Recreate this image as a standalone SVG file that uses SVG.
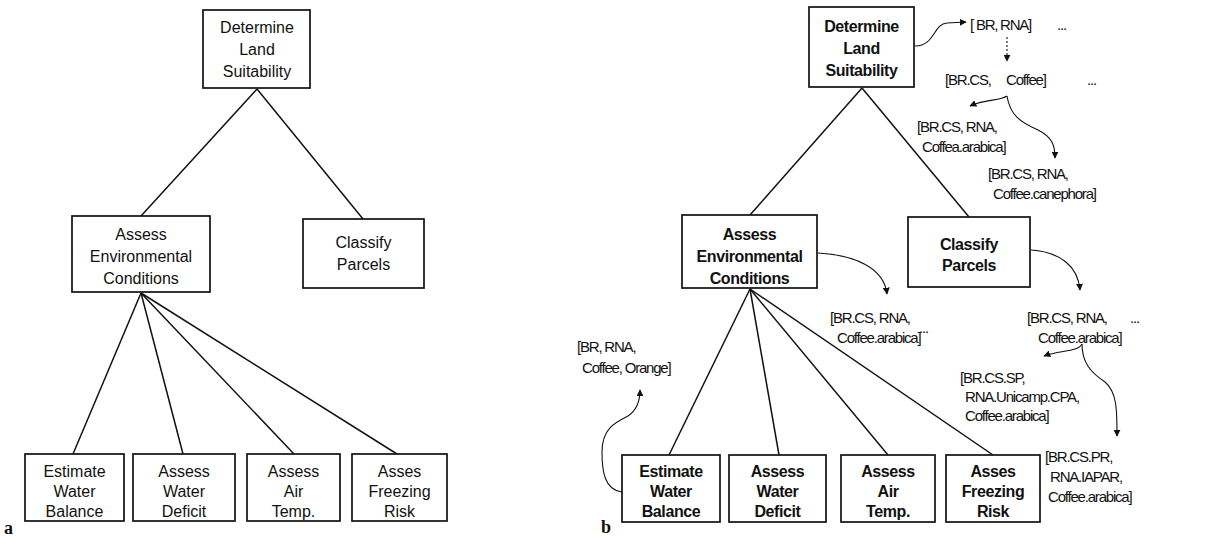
<svg xmlns="http://www.w3.org/2000/svg" width="1215" height="542" viewBox="0 0 1215 542">
<style>
.box{fill:#fff;stroke:#111;stroke-width:1.7}
.t{font-family:"Liberation Sans",Arial,sans-serif;font-size:16px;fill:#111;text-anchor:middle}
.b{font-weight:bold;letter-spacing:-0.4px}
.ann{font-family:"Liberation Sans",Arial,sans-serif;font-size:15px;fill:#111;letter-spacing:-1.2px}
.ln{stroke:#111;stroke-width:1.5;fill:none}
.cv{stroke:#111;stroke-width:1.1;fill:none}
.lab{font-family:"Liberation Serif","Times New Roman",serif;font-weight:bold;font-size:18px;fill:#111}
</style>
<defs>
<marker id="ah" viewBox="0 0 10 10" refX="9" refY="5" markerWidth="7" markerHeight="7" markerUnits="userSpaceOnUse" orient="auto">
<path d="M0,0 L10,5 L0,10 z" fill="#111"/>
</marker>
</defs>
<rect width="1215" height="542" fill="#fff"/>

<g id="connectors">
<!-- left panel -->
<line class="ln" x1="257" y1="89" x2="141" y2="216"/>
<line class="ln" x1="257" y1="89" x2="363" y2="219"/>
<line class="ln" x1="141" y1="293" x2="73" y2="454"/>
<line class="ln" x1="141" y1="293" x2="183" y2="454"/>
<line class="ln" x1="141" y1="293" x2="294" y2="454"/>
<line class="ln" x1="141" y1="293" x2="397" y2="454"/>
<!-- right panel -->
<line class="ln" x1="862" y1="88" x2="750" y2="215"/>
<line class="ln" x1="862" y1="88" x2="969" y2="217"/>
<line class="ln" x1="750" y1="289" x2="669" y2="455"/>
<line class="ln" x1="750" y1="289" x2="779" y2="455"/>
<line class="ln" x1="750" y1="289" x2="888" y2="455"/>
<line class="ln" x1="750" y1="289" x2="993" y2="455"/>
<!-- annotation arrows -->
<path class="cv" d="M915,46 C935,46 933,24 947,23 L966,22" marker-end="url(#ah)"/>
<path class="cv" d="M1007,37 L1007,61" stroke-dasharray="2,2" marker-end="url(#ah)"/>
<path class="cv" d="M1007,96 C1000,101 985,99 970,106" marker-end="url(#ah)"/>
<path class="cv" d="M1007,96 C1010,115 1020,122 1038,130 C1052,137 1055,145 1055,158" marker-end="url(#ah)"/>
<path class="cv" d="M818,253 C855,255 884,268 887,294" marker-end="url(#ah)"/>
<path class="cv" d="M1031,250 C1060,252 1078,266 1080,290" marker-end="url(#ah)"/>
<path class="cv" d="M1082,344 C1078,352 1060,350 1044,356" marker-end="url(#ah)"/>
<path class="cv" d="M1082,344 C1082,362 1090,372 1105,382 C1117,392 1117,410 1117,436" marker-end="url(#ah)"/>
<path class="cv" d="M622,492 C604,490 602,470 602,452 C602,428 616,422 628,416 C637,410 640,402 640,390" marker-end="url(#ah)"/>
</g>

<!-- LEFT PANEL NODES -->
<g id="a-determine">
<rect class="box" x="203" y="10" width="107" height="78"/>
<text class="t" x="257" y="33">Determine</text>
<text class="t" x="257" y="55">Land</text>
<text class="t" x="257" y="77">Suitability</text>
</g>
<g id="a-assess-env">
<rect class="box" x="72" y="216" width="138" height="76"/>
<text class="t" x="141" y="240">Assess</text>
<text class="t" x="141" y="262">Environmental</text>
<text class="t" x="141" y="284">Conditions</text>
</g>
<g id="a-classify">
<rect class="box" x="303" y="219" width="121" height="69"/>
<text class="t" x="363.5" y="248">Classify</text>
<text class="t" x="363.5" y="270">Parcels</text>
</g>
<g id="a-water-balance">
<rect class="box" x="25" y="454" width="99" height="67"/>
<text class="t" x="74.5" y="477">Estimate</text>
<text class="t" x="74.5" y="497">Water</text>
<text class="t" x="74.5" y="517">Balance</text>
</g>
<g id="a-water-deficit">
<rect class="box" x="133" y="454" width="102" height="67"/>
<text class="t" x="184" y="477">Assess</text>
<text class="t" x="184" y="497">Water</text>
<text class="t" x="184" y="517">Deficit</text>
</g>
<g id="a-air-temp">
<rect class="box" x="247" y="454" width="93" height="67"/>
<text class="t" x="293.5" y="477">Assess</text>
<text class="t" x="293.5" y="497">Air</text>
<text class="t" x="293.5" y="517">Temp.</text>
</g>
<g id="a-freezing">
<rect class="box" x="352" y="454" width="95" height="67"/>
<text class="t" x="399.5" y="477">Asses</text>
<text class="t" x="399.5" y="497">Freezing</text>
<text class="t" x="399.5" y="517">Risk</text>
</g>
<text class="lab" x="4" y="534">a</text>

<!-- RIGHT PANEL NODES -->
<g id="b-determine">
<rect class="box" x="809" y="7" width="105" height="80"/>
<text class="t b" x="861.5" y="32">Determine</text>
<text class="t b" x="861.5" y="54">Land</text>
<text class="t b" x="861.5" y="76">Suitability</text>
</g>
<g id="b-assess-env">
<rect class="box" x="682" y="215" width="135" height="73"/>
<text class="t b" x="749.5" y="240">Assess</text>
<text class="t b" x="749.5" y="262">Environmental</text>
<text class="t b" x="749.5" y="284">Conditions</text>
</g>
<g id="b-classify">
<rect class="box" x="908" y="217" width="122" height="70"/>
<text class="t b" x="969" y="250">Classify</text>
<text class="t b" x="969" y="271">Parcels</text>
</g>
<g id="b-water-balance">
<rect class="box" x="622" y="455" width="98" height="67"/>
<text class="t b" x="671" y="477">Estimate</text>
<text class="t b" x="671" y="497">Water</text>
<text class="t b" x="671" y="517">Balance</text>
</g>
<g id="b-water-deficit">
<rect class="box" x="729" y="455" width="97" height="67"/>
<text class="t b" x="777.5" y="477">Assess</text>
<text class="t b" x="777.5" y="497">Water</text>
<text class="t b" x="777.5" y="517">Deficit</text>
</g>
<g id="b-air-temp">
<rect class="box" x="841" y="455" width="94" height="67"/>
<text class="t b" x="888" y="477">Assess</text>
<text class="t b" x="888" y="497">Air</text>
<text class="t b" x="888" y="517">Temp.</text>
</g>
<g id="b-freezing">
<rect class="box" x="946" y="455" width="94" height="67"/>
<text class="t b" x="993" y="477">Asses</text>
<text class="t b" x="993" y="497">Freezing</text>
<text class="t b" x="993" y="517">Risk</text>
</g>
<text class="lab" x="601" y="533">b</text>

<g id="annotations">
<text class="ann" x="970" y="30">[ BR,<tspan x="1000">RNA]</tspan></text>
<text class="ann" x="1057" y="30">...</text>
<text class="ann" x="945" y="85">[BR.CS,<tspan x="1006">Coffee]</tspan></text>
<text class="ann" x="1087" y="85">...</text>
<text class="ann" x="917" y="132">[BR.CS, RNA,</text>
<text class="ann" x="922" y="152">Coffea.arabica]</text>
<text class="ann" x="988" y="179">[BR.CS, RNA,</text>
<text class="ann" x="993" y="199">Coffee.canephora]</text>
<text class="ann" x="830" y="323">[BR.CS, RNA,</text>
<text class="ann" x="837" y="343">Coffee.arabica]</text>
<text class="ann" x="919" y="333">...</text>
<text class="ann" x="1027" y="323">[BR.CS, RNA,</text>
<text class="ann" x="1130" y="323">...</text>
<text class="ann" x="1038" y="343">Coffee.arabica]</text>
<text class="ann" x="960" y="383">[BR.CS.SP,</text>
<text class="ann" x="965" y="402">RNA.Unicamp.CPA,</text>
<text class="ann" x="965" y="421">Coffee.arabica]</text>
<text class="ann" x="1045" y="462">[BR.CS.PR,</text>
<text class="ann" x="1050" y="482">RNA.IAPAR,</text>
<text class="ann" x="1048" y="502">Coffee.arabica]</text>
<text class="ann" x="577" y="352">[BR, RNA,</text>
<text class="ann" x="582" y="373">Coffee, Orange]</text>
</g>
</svg>
